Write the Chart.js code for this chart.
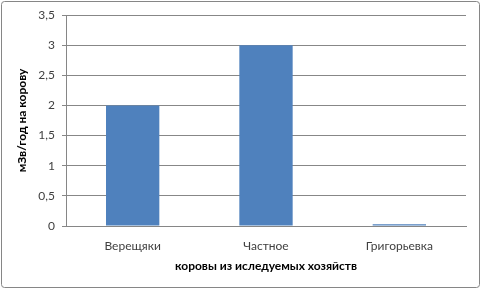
<!DOCTYPE html>
<html><head><meta charset="utf-8">
<script src="https://cdn.jsdelivr.net/npm/chart.js@4.4.1/dist/chart.umd.min.js"></script>
<style>html,body{margin:0;padding:0;background:#fff}#w{width:482px;height:290px;position:relative}</style>
</head><body><div id="w"><canvas id="c" width="482" height="290"></canvas></div>
<script>
const categories = ['Верещяки', 'Частное', 'Григорьевка'];
const values = [2, 3, 0.03];
const yTicks = ['0', '0,5', '1', '1,5', '2', '2,5', '3', '3,5'];
const yTitle = 'мЗв/год на корову';
const xTitle = 'коровы из иследуемых хозяйств';

const FONT = 'Lato, "Open Sans", sans-serif';
const borderPlugin = {
  id: 'outerBorder',
  beforeDraw(chart) {
    const ctx = chart.ctx;
    ctx.save();
    ctx.fillStyle = '#fff';
    ctx.fillRect(0, 0, chart.width, chart.height);
    ctx.strokeStyle = '#868686';
    ctx.lineWidth = 1;
    ctx.beginPath();
    ctx.roundRect(1.5, 1.5, 478, 286, 3);
    ctx.stroke();
    ctx.restore();
  }
};

new Chart(document.getElementById('c'), {
  type: 'bar',
  data: {
    labels: categories,
    datasets: [{ data: values, backgroundColor: '#4F81BD', borderWidth: 0,
      categoryPercentage: 1, barPercentage: 0.4 }]
  },
  options: {
    responsive: false,
    animation: false,
    layout: { padding: { top: 15, right: 16, left: 0, bottom: 0 } },
    plugins: { legend: { display: false }, tooltip: { enabled: false } },
    scales: {
      x: {
        afterFit(s) { s.height = 64; },
        grid: { display: false },
        border: { display: true, color: '#868686' },
        ticks: { color: '#404040', font: { family: FONT, size: 12 }, padding: 5 },
        title: { display: true, text: xTitle, color: '#000', font: { family: FONT, size: 12, weight: 'bold' }, padding: { top: 4, bottom: 17 } }
      },
      y: {
        min: 0, max: 3.5,
        afterFit(s) { s.width = 66; },
        ticks: { stepSize: 0.5, color: '#404040', font: { family: FONT, size: 12 }, padding: 7,
          callback: (v, i) => yTicks[i] },
        grid: { color: '#878787', tickLength: 4, drawTicks: true },
        border: { display: true, color: '#868686' },
        title: { display: true, text: yTitle, color: '#000', font: { family: FONT, size: 12, weight: 'bold' }, padding: { top: 15, bottom: 15 } }
      }
    }
  },
  plugins: [borderPlugin]
});
</script></body></html>
